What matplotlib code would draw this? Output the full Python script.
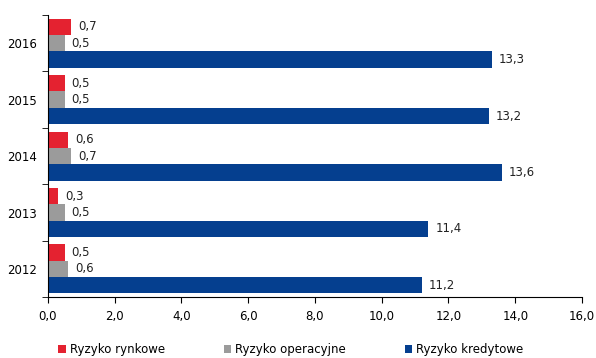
import matplotlib
matplotlib.use("Agg")
import matplotlib.pyplot as plt
import numpy as np
from matplotlib.ticker import FuncFormatter, FixedLocator

years = ["2012", "2013", "2014", "2015", "2016"]
rynkowe = [0.5, 0.3, 0.6, 0.5, 0.7]
operacyjne = [0.6, 0.5, 0.7, 0.5, 0.5]
kredytowe = [11.2, 11.4, 13.6, 13.2, 13.3]

series = [
    ("Ryzyko rynkowe", rynkowe, "#E42230", 0.29),
    ("Ryzyko operacyjne", operacyjne, "#9B9B9B", 0.0),
    ("Ryzyko kredytowe", kredytowe, "#053F8F", -0.29),
]

def pl(v):
    return f"{v:.1f}".replace(".", ",")

plt.rcParams["font.family"] = ["DejaVu Sans"]
fig = plt.figure(figsize=(5.96, 3.58), dpi=100)
ax = fig.add_axes([0.0805, 0.170, 0.896, 0.788])

y = np.arange(len(years))
h = 0.29
for name, vals, col, off in series:
    bars = ax.barh(y + off, vals, h, color=col, label=name, linewidth=0)
    for b, v in zip(bars, vals):
        ax.annotate(pl(v), (b.get_width(), b.get_y() + b.get_height() / 2),
                    xytext=(5, 0), textcoords="offset points",
                    va="center", ha="left", fontsize=8.5, color="#222222")

ax.set_xlim(0, 16)
ax.set_ylim(-0.5, len(years) - 0.5)
ax.set_xticks(np.arange(0, 17, 2))
ax.xaxis.set_major_formatter(FuncFormatter(lambda v, p: pl(v)))
ax.set_yticks(y)
ax.set_yticklabels(years)
ax.yaxis.set_minor_locator(FixedLocator(np.arange(-0.5, len(years), 1.0)))
ax.tick_params(axis="y", which="major", length=0, pad=8, labelsize=8.5)
ax.tick_params(axis="y", which="minor", length=4, color="black")
ax.tick_params(axis="x", length=4, labelsize=8.5, pad=5)
for s in ("top", "right"):
    ax.spines[s].set_visible(False)
for s in ("left", "bottom"):
    ax.spines[s].set_color("black")

fig.legend(loc="lower center", bbox_to_anchor=(0.488, -0.025), ncol=3, frameon=False,
           fontsize=8.5, handlelength=0.65, handleheight=0.65, handletextpad=0.3,
           columnspacing=5.0)

fig.savefig("out.png", dpi=100)
